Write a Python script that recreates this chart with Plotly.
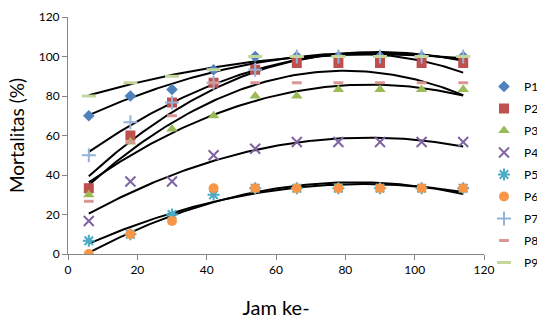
import numpy as np
import plotly.graph_objects as go

jam = [6, 18, 30, 42, 54, 66, 78, 90, 102, 114]

series_names = ["P1", "P2", "P3", "P4", "P5", "P6", "P7", "P8", "P9"]
P1 = [70, 80, 83.3, 93.3, 100, 100, 100, 100, 100, 100]
P2 = [33.3, 60, 76.7, 86.7, 93.3, 96.7, 96.7, 96.7, 96.7, 96.7]
P3 = [30, 56.7, 63.3, 70, 80, 80, 83.3, 83.3, 83.3, 83.3]
P4 = [16.7, 36.7, 36.7, 50, 53.3, 56.7, 56.7, 56.7, 56.7, 56.7]
P5 = [6.7, 10, 20, 30, 33.3, 33.3, 33.3, 33.3, 33.3, 33.3]
P6 = [0, 10, 16.7, 33.3, 33.3, 33.3, 33.3, 33.3, 33.3, 33.3]
P7 = [50, 66.7, 76.7, 86.7, 93.3, 100, 100, 100, 100, 100]
P8 = [26.7, 56.7, 70, 86.7, 86.7, 86.7, 86.7, 86.7, 86.7, 86.7]
P9 = [80, 86.7, 90, 93.3, 100, 100, 100, 100, 100, 100]
values = [P1, P2, P3, P4, P5, P6, P7, P8, P9]

x_ticks = [0, 20, 40, 60, 80, 100, 120]
y_ticks = [0, 20, 40, 60, 80, 100, 120]

colors = ["#4F81BD", "#C0504D", "#9BBB59", "#8064A2", "#4BACC6",
          "#F79646", "#95B3D7", "#D99694", "#C3D69B"]
symbols = ["diamond", "square", "triangle-up", "x-thin-open", "asterisk-open",
           "circle", "cross-thin-open", "line-ew-open", "line-ew-open"]
sizes = [9, 10, 10, 10, 10, 10, 10, 7, 10]
lwidths = [0, 0, 0, 2, 2, 0, 2, 3, 3]

fig = go.Figure()

# polynomial (order 2) trend lines, drawn first so markers sit on top
xs = np.linspace(min(jam), max(jam), 120)
for name, vals in zip(series_names, values):
    c = np.polyfit(jam, vals, 2)
    fig.add_trace(go.Scatter(x=xs, y=np.polyval(c, xs), mode="lines",
                             line=dict(color="black", width=2),
                             showlegend=False, hoverinfo="skip"))

for name, vals, col, sym, sz, lw in zip(series_names, values, colors, symbols, sizes, lwidths):
    fig.add_trace(go.Scatter(
        x=jam, y=vals, mode="markers", name=name, legendgroup=name,
        marker=dict(symbol=sym, size=sz, color=col,
                    line=dict(color=col, width=lw)),
    ))

fig.update_layout(
    width=537, height=320,
    margin=dict(l=68, r=52, t=17, b=66),
    paper_bgcolor="white", plot_bgcolor="white",
    font=dict(family="Lato, sans-serif", size=12, color="#000000"),
    legend=dict(xref="container", yref="container",
                x=484 / 537, xanchor="left", y=(320 - 72) / 320, yanchor="top",
                font=dict(size=12), tracegroupgap=3, maxheight=300,
                itemwidth=30, bgcolor="rgba(0,0,0,0)"),
    xaxis=dict(range=[0, 120], tickvals=x_ticks, showgrid=False, zeroline=False,
               showline=True, linecolor="#868686", linewidth=1,
               ticks="outside", ticklen=5, tickcolor="#868686", automargin=False,
               tickfont=dict(size=12, color="#000000"),
               title=dict(text="Jam ke-", font=dict(size=20), standoff=24)),
    yaxis=dict(range=[0, 120], tickvals=y_ticks, showgrid=False, zeroline=False,
               showline=True, linecolor="#868686", linewidth=1,
               ticks="outside", ticklen=5, tickcolor="#868686", automargin=False,
               tickfont=dict(size=12, color="#000000"),
               title=dict(text="Mortalitas (%)", font=dict(size=19), standoff=9)),
)

fig.write_html("out.html", config={"displayModeBar": False},
               post_script="document.body.style.margin='0';document.body.style.overflow='hidden';")
